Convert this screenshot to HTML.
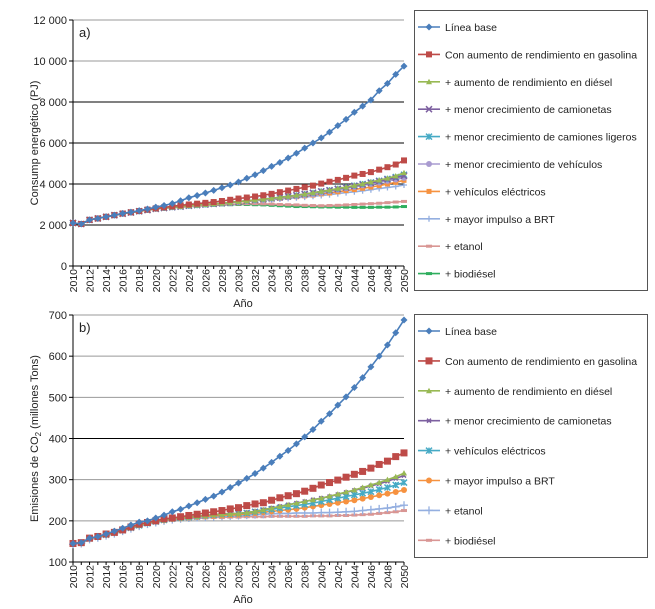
<!DOCTYPE html>
<html><head><meta charset="utf-8"><style>
html,body{margin:0;padding:0;background:#fff;}
svg{display:block;font-family:"Liberation Sans",sans-serif;}
</style></head><body>
<svg id="c" width="655" height="609" viewBox="0 0 655 609" xmlns="http://www.w3.org/2000/svg"></svg>
<script>
const years = [];
for (let y = 2010; y <= 2050; y++) years.push(y);
const topTicks = [0, 2000, 4000, 6000, 8000, 10000, 12000];
const topTickLabels = ["0", "2 000", "4 000", "6 000", "8 000", "10 000", "12 000"];
const botTicks = [100, 200, 300, 400, 500, 600, 700];
const botTickLabels = ["100", "200", "300", "400", "500", "600", "700"];

const T_base = [2100,2050,2250,2320,2400,2480,2570,2630,2700,2780,2870, 2950,3050,3180,3330,3440,3560,3690,3820,3950,4100, 4280,4450,4650,4860,5050,5270,5500,5750,6000,6250, 6530,6850,7150,7500,7800,8100,8550,8900,9350,9750];
const T_gas = [2100,2050,2250,2320,2400,2480,2560,2620,2680,2750,2810, 2860,2910,2960,3000,3040,3080,3120,3170,3230,3290, 3340,3390,3450,3520,3600,3680,3760,3840,3920,4020, 4110,4200,4300,4410,4490,4580,4700,4820,4950,5150];
const T_dsl = [2100,2050,2250,2320,2400,2480,2550,2610,2670,2730,2790, 2830,2870,2900,2940,2970,3000,3030,3060,3100,3140, 3180,3220,3260,3300,3350,3400,3450,3510,3570,3640, 3700,3780,3850,3930,4010,4100,4190,4280,4390,4550];
const T_cam = [2100,2050,2250,2320,2400,2480,2550,2610,2670,2730,2790, 2830,2870,2900,2940,2970,3000,3030,3060,3100,3140, 3180,3220,3260,3300,3350,3400,3450,3510,3570,3640, 3690,3760,3830,3900,3970,4050,4130,4220,4300,4400];
const T_cl = [2100,2050,2250,2320,2400,2480,2550,2610,2670,2730,2790, 2830,2870,2900,2940,2970,3000,3030,3060,3100,3140, 3180,3220,3260,3300,3350,3400,3450,3510,3570,3640, 3700,3770,3840,3920,4000,4080,4160,4250,4340,4450];
const T_veh = [2100,2050,2250,2320,2400,2480,2550,2610,2670,2730,2790, 2830,2870,2900,2940,2970,3000,3030,3060,3100,3140, 3170,3200,3240,3280,3320,3360,3400,3450,3500,3570, 3650,3720,3790,3860,3930,4000,4070,4150,4220,4300];
const T_ele = [2100,2050,2250,2320,2400,2480,2550,2610,2670,2730,2790, 2830,2870,2900,2940,2970,3000,3030,3060,3100,3120, 3150,3190,3230,3270,3300,3340,3380,3420,3460,3520, 3560,3620,3680,3730,3790,3850,3920,4000,4080,4180];
const T_brt = [2100,2050,2250,2320,2400,2480,2550,2610,2670,2730,2790, 2830,2870,2900,2940,2970,3000,3030,3060,3100,3120, 3150,3180,3210,3240,3270,3300,3330,3360,3400,3440, 3480,3530,3580,3620,3670,3720,3780,3830,3880,3950];
const T_eta = [2100,2050,2250,2320,2400,2480,2550,2610,2670,2730,2790, 2820,2850,2880,2900,2930,2950,2970,2990,3010,3030, 3040,3040,3030,3020,3000,2990,2980,2960,2950,2940, 2950,2960,2980,3000,3020,3040,3060,3090,3120,3150];
const T_bio = [2100,2050,2250,2320,2400,2480,2550,2610,2670,2730,2790, 2820,2850,2870,2900,2920,2940,2960,2980,2990,3000, 3000,2990,2980,2960,2940,2920,2900,2900,2890,2880, 2880,2870,2870,2860,2860,2860,2870,2870,2880,2900];

const B_base = [145,147,158,162,168,175,182,190,197,200,207, 214,222,228,236,244,252,260,270,281,292, 303,315,328,342,357,371,387,404,422,442, 460,481,501,524,548,574,600,627,657,688];
const B_gas = [145,147,158,162,168,172,178,185,192,196,200, 205,207,210,213,216,219,222,225,229,232, 237,241,244,250,256,261,266,272,279,287, 293,299,306,313,320,328,337,345,356,365];
const B_dsl = [145,147,157,161,166,171,177,183,189,194,198, 202,205,207,209,211,213,215,216,217,218, 220,223,227,231,235,239,243,247,251,255, 260,265,270,275,281,287,293,300,307,316];
const B_cam = [145,147,157,161,166,171,177,183,189,194,198, 202,205,207,209,211,213,215,216,217,218, 220,223,227,231,235,239,243,247,251,255, 259,264,269,274,279,285,290,296,303,310];
const B_ele = [145,147,157,161,166,171,177,183,189,194,198, 202,205,207,209,211,213,215,216,217,218, 219,222,225,228,231,234,237,240,243,247, 251,255,259,263,267,271,276,281,287,293];
const B_brt = [145,147,157,161,166,171,177,183,189,194,198, 201,204,206,208,210,211,212,213,214,215, 217,219,221,223,225,227,229,232,235,238, 241,244,247,250,254,258,262,266,270,275];
const B_eta = [143,145,155,159,164,169,175,181,187,192,196, 200,203,205,207,208,209,210,211,212,213, 214,215,216,217,218,218,219,219,219,220, 220,221,222,223,225,227,229,231,234,238];
const B_bio = [145,147,156,160,165,170,176,182,188,193,197, 200,202,204,205,206,207,208,208,209,209, 210,210,210,211,211,211,211,211,212,212, 212,213,213,214,215,216,218,220,222,225];

const NS = "http://www.w3.org/2000/svg";
const svg = document.getElementById('c');
function mk(tag, attrs, parent) {
  const e = document.createElementNS(NS, tag);
  for (const k in attrs) e.setAttribute(k, attrs[k]);
  (parent || svg).appendChild(e);
  return e;
}
function marker(g, type, x, y, color, s) {
  let e;
  if (type === 'diamond') e = mk('polygon', {points: `${x},${y-s} ${x+s},${y} ${x},${y+s} ${x-s},${y}`, fill: color}, g);
  else if (type === 'square') e = mk('rect', {x: x-s, y: y-s, width: 2*s, height: 2*s, fill: color}, g);
  else if (type === 'triangle') e = mk('polygon', {points: `${x},${y-s} ${x+s},${y+s*0.8} ${x-s},${y+s*0.8}`, fill: color}, g);
  else if (type === 'x') e = mk('path', {d: `M${x-s},${y-s}L${x+s},${y+s}M${x-s},${y+s}L${x+s},${y-s}`, stroke: color, 'stroke-width': 1.5}, g);
  else if (type === 'star') e = mk('path', {d: `M${x-s},${y-s}L${x+s},${y+s}M${x-s},${y+s}L${x+s},${y-s}M${x},${y-s}L${x},${y+s}`, stroke: color, 'stroke-width': 1.5}, g);
  else if (type === 'circle') e = mk('circle', {cx: x, cy: y, r: s, fill: color}, g);
  else if (type === 'plus') e = mk('path', {d: `M${x-s},${y}L${x+s},${y}M${x},${y-s}L${x},${y+s}`, stroke: color, 'stroke-width': 1.3}, g);
  else if (type === 'dash') e = mk('rect', {x: x-s, y: y-s*0.5, width: 2*s, height: s, fill: color}, g);
  return e;
}

function chart(cfg) {
  const g = mk('g', {});
  
  
  const X0 = 73, X1 = 404;
  const xs = v => X0 + (v - 2010) / 40 * (X1 - X0);
  const ys = v => cfg.yb + (v - cfg.ymin) / (cfg.ymax - cfg.ymin) * (cfg.yt - cfg.yb);
  cfg.ticks.forEach((t, i) => {
    const y = ys(t);
    const gl = mk('line', {x1: X0, x2: X1, y1: y, y2: y, stroke: (i === cfg.ticks.length - 1 || cfg.grey.includes(i)) ? '#999' : '#000', 'stroke-width': 1}, g);
    
    
    mk('line', {x1: X0 - 4, x2: X0, y1: y, y2: y, stroke: '#000'}, g);
    const tl = mk('text', {x: X0 - 6, y: y + 4, 'text-anchor': 'end', 'font-size': 11, fill: '#222'}, g);
    tl.textContent = cfg.tickLabels[i];
    
    
  });
  mk('line', {x1: X0, x2: X0, y1: cfg.yt, y2: cfg.yb, stroke: '#000'}, g);
  mk('line', {x1: X0, x2: X1, y1: cfg.yb, y2: cfg.yb, stroke: '#000'}, g);
  years.forEach((yr, i) => {
    mk('line', {x1: xs(yr), x2: xs(yr), y1: cfg.yb, y2: cfg.yb + 3, stroke: '#000'}, g);
    if (i % 2 === 0) {
      const t = mk('text', {x: 0, y: 0, transform: `translate(${xs(yr) + 4},${cfg.yb + 3}) rotate(-90)`, 'text-anchor': 'end', 'font-size': 10.5, fill: '#222'}, g);
      t.textContent = yr;
      
      
    }
  });
  const xt = mk('text', {x: 243, y: cfg.yb + 41, 'text-anchor': 'middle', 'font-size': 11, fill: '#222'}, g);
  xt.textContent = 'Año';
  
  
  const yt = mk('text', {x: 0, y: 0, transform: `translate(38,${(cfg.yt + cfg.yb) / 2}) rotate(-90)`, 'text-anchor': 'middle', 'font-size': 11, fill: '#222'}, g);
  yt.innerHTML = cfg.ytitle;
  
  
  const pl = mk('text', {x: 79, y: cfg.yt + 17, 'font-size': 13, fill: '#222'}, g);
  pl.textContent = cfg.panel;
  
  

  // legend
  const lg = mk('g', {}, g);
  
  
  mk('rect', {x: 414.5, y: cfg.lt + 0.5, width: 233, height: cfg.lb - cfg.lt, fill: '#fff', stroke: '#555'}, lg);

  // series drawn in reverse so base on top
  for (let k = cfg.series.length - 1; k >= 0; k--) {
    const s = cfg.series[k];
    const sg = mk('g', {}, g);
    
    
    const pts = s.data.map((v, i) => `${xs(years[i]).toFixed(1)},${ys(v).toFixed(1)}`).join(' ');
    mk('polyline', {points: pts, fill: 'none', stroke: s.color, 'stroke-width': 1.6}, sg);
    s.data.forEach((v, i) => {
      const m = marker(sg, s.m, xs(years[i]), ys(v), s.color, s.sz || 3);
      
      
    });
  }
  cfg.series.forEach((s, k) => {
    const y = cfg.l0 + k * cfg.ls;
    const eg = mk('g', {}, lg);
    
    
    mk('line', {x1: 418, x2: 440, y1: y, y2: y, stroke: s.color, 'stroke-width': 1.6}, eg);
    marker(eg, s.m, 429, y, s.color, s.sz || 3);
    const t = mk('text', {x: 445, y: y + 4, 'font-size': 10.5, fill: '#222'}, eg);
    t.textContent = s.label;
  });
}

chart({
  name: 'energy-chart', panel: 'a)', yt: 20, yb: 266, ymin: 0, ymax: 12000,
  ticks: topTicks, tickLabels: topTickLabels, grey: [5],
  ytitle: 'Consump energético (PJ)',
  lt: 10, lb: 290, l0: 27, ls: 27.4,
  series: [
    {key: 'base', label: 'Línea base', color: '#4a7ebb', m: 'diamond', data: T_base, sz: 3.5},
    {key: 'gasolina', label: 'Con aumento de rendimiento en gasolina', color: '#be4b48', m: 'square', data: T_gas},
    {key: 'diesel', label: '+ aumento de rendimiento en diésel', color: '#98b954', m: 'triangle', data: T_dsl},
    {key: 'camionetas', label: '+ menor crecimiento de camionetas', color: '#7d60a0', m: 'x', data: T_cam},
    {key: 'camiones', label: '+ menor crecimiento de camiones ligeros', color: '#46aac5', m: 'star', data: T_cl},
    {key: 'vehiculos', label: '+  menor crecimiento de vehículos', color: '#a99bd0', m: 'circle', data: T_veh},
    {key: 'electricos', label: '+ vehículos eléctricos', color: '#f69240', m: 'square', data: T_ele, sz: 2.5},
    {key: 'brt', label: '+ mayor impulso a BRT', color: '#94afe0', m: 'plus', data: T_brt},
    {key: 'etanol', label: '+ etanol', color: '#d99694', m: 'dash', data: T_eta},
    {key: 'biodiesel', label: '+ biodiésel', color: '#2fae5e', m: 'dash', data: T_bio}
  ]
});
chart({
  name: 'emissions-chart', panel: 'b)', yt: 315, yb: 562, ymin: 100, ymax: 700,
  ticks: botTicks, tickLabels: botTickLabels, grey: [1, 2, 4, 5],
  ytitle: 'Emisiones de CO<tspan font-size="8" dy="3">2</tspan><tspan dy="-3"> (millones Tons)</tspan>',
  lt: 314, lb: 557, l0: 331, ls: 29.9,
  series: [
    {key: 'base', label: 'Línea base', color: '#4a7ebb', m: 'diamond', data: B_base, sz: 3.5},
    {key: 'gasolina', label: 'Con aumento de rendimiento en gasolina', color: '#be4b48', m: 'square', data: B_gas, sz: 3.5},
    {key: 'diesel', label: '+ aumento de rendimiento en diésel', color: '#98b954', m: 'triangle', data: B_dsl},
    {key: 'camionetas', label: '+ menor crecimiento de camionetas', color: '#7d60a0', m: 'x', data: B_cam, sz: 2},
    {key: 'electricos', label: '+ vehículos eléctricos', color: '#46aac5', m: 'star', data: B_ele},
    {key: 'brt', label: '+ mayor impulso a BRT', color: '#f69240', m: 'circle', data: B_brt},
    {key: 'etanol', label: '+ etanol', color: '#94afe0', m: 'plus', data: B_eta, sz: 4},
    {key: 'biodiesel', label: '+ biodiésel', color: '#d99694', m: 'dash', data: B_bio}
  ]
});
</script>
</body></html>
